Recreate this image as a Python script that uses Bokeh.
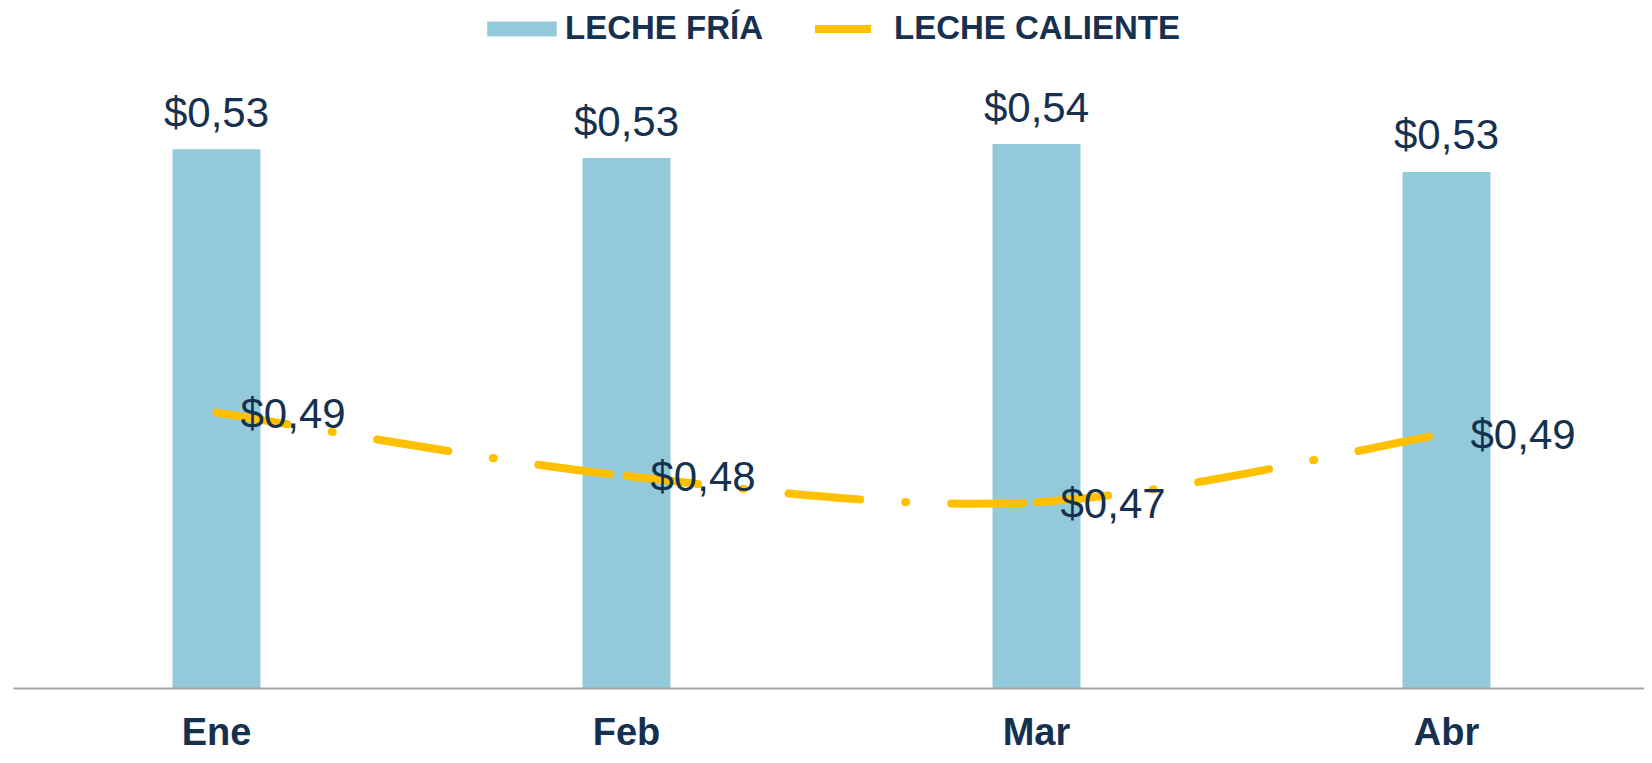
from bokeh.plotting import figure
from bokeh.models import Range1d, FixedTicker, Legend, LegendItem, ColumnDataSource
from bokeh.core.properties import value
from bokeh.embed import file_html
from bokeh.resources import INLINE

# ---- data ----
months = ["Ene", "Feb", "Mar", "Abr"]
leche_fria = [0.5346, 0.5331, 0.5355, 0.5307]
leche_caliente = [0.4894, 0.4785, 0.4740, 0.4858]
series_names = ["LECHE FRÍA", "LECHE CALIENTE"]

NAVY = "#16304f"
BAR_COLOR = "#93CADB"
LINE_COLOR = "#FFC000"
FONT_NAME = "Liberation Sans"
FONT = value(FONT_NAME)
PX_PER_UNIT = 5840


def fmt(v):
    return "$" + f"{v:.2f}".replace(".", ",")


xs = list(range(len(months)))
y_start = 0.442

p = figure(width=1644, height=755,
           x_range=Range1d(-0.4951, 3.4829),
           y_range=Range1d(y_start, y_start + 690 / PX_PER_UNIT),
           output_backend="svg", toolbar_location=None,
           y_axis_location=None,
           min_border_left=13, min_border_right=0,
           min_border_top=0, min_border_bottom=65)
p.outline_line_color = None
p.grid.visible = False
p.background_fill_color = "white"
p.border_fill_color = "white"

# bars
r_bar = p.vbar(x=xs, top=leche_fria, width=0.2146,
               fill_color=BAR_COLOR, line_color=None)

# smoothed line: one cubic Bezier per segment (Catmull-Rom control points)
n = len(xs)


def pt(i):
    i = min(max(i, 0), n - 1)
    return xs[i], leche_caliente[i]


bz = dict(x0=[], y0=[], x1=[], y1=[], cx0=[], cy0=[], cx1=[], cy1=[])
for i in range(n - 1):
    xa, ya = pt(i - 1)
    xb, yb = pt(i)
    xc, yc = pt(i + 1)
    xd, yd = pt(i + 2)
    bz["x0"].append(xb)
    bz["y0"].append(yb)
    bz["x1"].append(xc)
    bz["y1"].append(yc)
    bz["cx0"].append(xb + (xc - xa) / 6)
    bz["cy0"].append(yb + (yc - ya) / 6)
    bz["cx1"].append(xc - (xd - xb) / 6)
    bz["cy1"].append(yc - (yd - yb) / 6)

r_line = p.bezier(source=ColumnDataSource(bz), x0="x0", y0="y0", x1="x1", y1="y1",
                  cx0="cx0", cy0="cy0", cx1="cx1", cy1="cy1",
                  line_color=LINE_COLOR, line_width=8,
                  line_dash="72 45 1 45", line_cap="round")

# value labels
p.text(x=xs, y=leche_fria, text=[fmt(v) for v in leche_fria],
       text_align="center", text_baseline="alphabetic", y_offset=-37,
       text_font=FONT, text_font_size="42px", text_color=NAVY)
p.text(x=xs, y=leche_caliente, text=[fmt(v) for v in leche_caliente],
       text_align="left", text_baseline="middle", x_offset=24, y_offset=1,
       text_font=FONT, text_font_size="42px", text_color=NAVY)

# x axis
ax = p.xaxis[0]
ax.ticker = FixedTicker(ticks=xs)
ax.major_label_overrides = {i: m for i, m in enumerate(months)}
ax.major_tick_line_color = None
ax.minor_tick_line_color = None
ax.major_tick_out = 0
ax.major_tick_in = 0
ax.minor_tick_out = 0
ax.minor_tick_in = 0
ax.axis_line_color = "#a6a6a6"
ax.axis_line_width = 2
ax.major_label_standoff = 22
ax.major_label_text_font = FONT_NAME
ax.major_label_text_font_style = "bold"
ax.major_label_text_font_size = "38px"
ax.major_label_text_color = NAVY

# legends
common = dict(padding=0, margin=0, border_line_color=None,
              background_fill_alpha=0, label_text_font=FONT_NAME,
              label_text_font_style="bold", label_text_font_size="33px",
              label_text_color=NAVY, orientation="horizontal")
leg1 = Legend(items=[LegendItem(label=series_names[0], renderers=[r_bar])],
              location=(465, 641), glyph_width=87, glyph_height=19,
              label_standoff=0, **common)
leg2 = Legend(items=[LegendItem(label=series_names[1], renderers=[r_line])],
              location=(802, 641), glyph_width=56, glyph_height=19,
              label_standoff=23, **common)
p.add_layout(leg1)
p.add_layout(leg2)

open("out.html", "w").write(file_html(p, INLINE))
